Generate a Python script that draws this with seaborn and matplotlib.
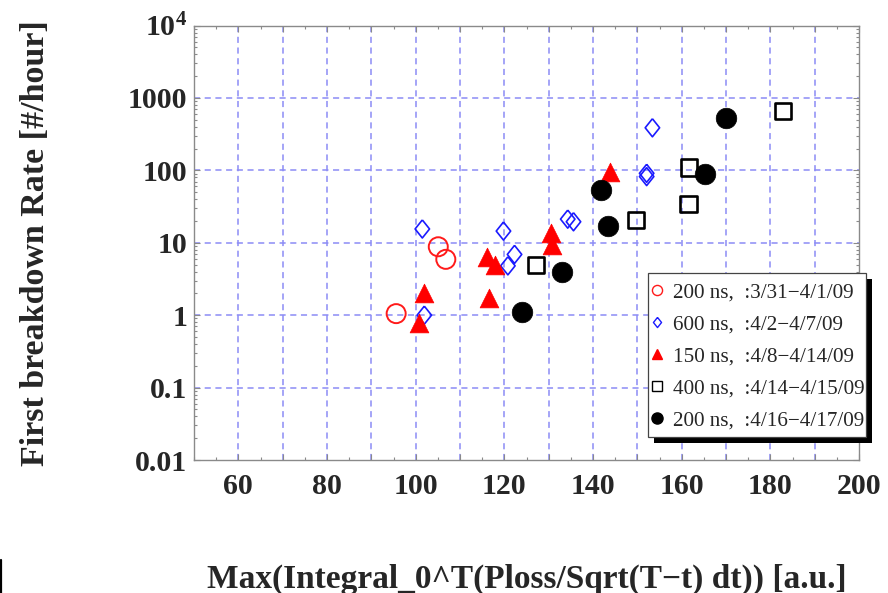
import numpy as np
import pandas as pd
import matplotlib
matplotlib.use("Agg")
import matplotlib.pyplot as plt
import seaborn as sns
from matplotlib.lines import Line2D
from matplotlib.patches import Rectangle
from matplotlib.ticker import MultipleLocator, LogLocator, NullFormatter, FixedLocator, FixedFormatter

# ---- data: first breakdown rate vs. max integrated loss, per run ----
x_200ns_a = [95.6, 105.1, 106.8]
y_200ns_a = [1.05, 8.8, 5.9]

x_600ns = [101.5, 101.95, 119.8, 122.3, 120.8, 134.3, 135.6, 152.1, 152.1, 153.4]
y_600ns = [15.5, 1.0, 14.5, 6.9, 4.8, 21.2, 19.5, 91.0, 82.0, 387.0]

x_150ns = [101.95, 100.8, 116.0, 117.9, 116.6, 130.5, 130.7, 143.8]
y_150ns = [2.0, 0.77, 6.4, 4.9, 1.7, 13.5, 9.3, 96.0]

x_400ns = [127.1, 149.7, 161.5, 161.7, 182.8]
y_400ns = [4.9, 20.6, 34.0, 109.0, 661.0]

x_200ns_b = [123.9, 132.9, 141.8, 143.3, 165.3, 170.0]
y_200ns_b = [1.11, 4.0, 53.0, 17.0, 89.0, 533.0]

series_labels = [
    "200 ns,  :3/31\u22124/1/09",
    "600 ns,  :4/2\u22124/7/09",
    "150 ns,  :4/8\u22124/14/09",
    "400 ns,  :4/14\u22124/15/09",
    "200 ns,  :4/16\u22124/17/09",
]

x_ticks = [60, 70, 80, 90, 100, 110, 120, 130, 140, 150, 160, 170, 180, 190, 200]
x_tick_labels = ["60", "", "80", "", "100", "", "120", "", "140", "", "160", "", "180", "", "200"]
y_ticks = [0.01, 0.1, 1, 10, 100, 1000, 1e4]
y_tick_labels = ["0.01", "0.1", "1", "10", "100", "1000", r"$10^{4}$"]

x_label = "Max(Integral_0^T(Ploss/Sqrt(T\u2212t) dt)) [a.u.]"
y_label = "First breakdown Rate [#/hour]"

# ---- style ----
sns.set_style("ticks")
plt.rcParams["font.family"] = ["Liberation Serif", "DejaVu Serif"]
plt.rcParams["mathtext.fontset"] = "custom"
plt.rcParams["mathtext.rm"] = "Liberation Serif:bold"
plt.rcParams["mathtext.bf"] = "Liberation Serif:bold"
plt.rcParams["mathtext.it"] = "Liberation Serif:bold"

W, H = 888, 593
fig = plt.figure(figsize=(W / 100, H / 100), dpi=100)
ax = fig.add_axes([194 / W, 1 - 460 / H, (859 - 194) / W, (460 - 25.5) / H])

diamond = [(0, 1), (0.8, 0), (0, -1), (-0.8, 0), (0, 1)]

series = [
    dict(x=x_200ns_a, y=y_200ns_a, marker="o", fc="none", ec="#ff1a1a", s=13.7 ** 2, lw=1.4),
    dict(x=x_600ns, y=y_600ns, marker=diamond, fc="none", ec="#1a1aff", s=13.0 ** 2, lw=1.2),
    dict(x=x_150ns, y=y_150ns, marker="^", fc="#ff0000", ec="#ff0000", s=13.5 ** 2, lw=0.5),
    dict(x=x_400ns, y=y_400ns, marker="s", fc="none", ec="black", s=11.8 ** 2, lw=1.9),
    dict(x=x_200ns_b, y=y_200ns_b, marker="o", fc="black", ec="black", s=14.8 ** 2, lw=0.5),
]

for sr in series:
    df = pd.DataFrame({"x": sr["x"], "y": sr["y"]})
    sns.scatterplot(data=df, x="x", y="y", ax=ax, marker=sr["marker"], s=sr["s"],
                    color=sr["ec"], facecolor=sr["fc"], edgecolor=sr["ec"],
                    linewidth=sr["lw"], zorder=3, legend=False)

ax.set_yscale("log")
ax.set_xlim(50, 200)
ax.set_ylim(0.01, 1e4)

ax.xaxis.set_major_locator(FixedLocator(x_ticks))
ax.xaxis.set_major_formatter(FixedFormatter(x_tick_labels))
ax.xaxis.set_minor_locator(MultipleLocator(5))
ax.yaxis.set_major_locator(FixedLocator(y_ticks))
ax.yaxis.set_major_formatter(FixedFormatter(y_tick_labels))
ax.yaxis.set_minor_locator(LogLocator(base=10, subs=np.arange(2, 10), numticks=20))
ax.yaxis.set_minor_formatter(NullFormatter())

frame_col = "#8a8a8a"
for sp in ax.spines.values():
    sp.set_color(frame_col)
    sp.set_linewidth(1.0)
    sp.set_zorder(2.6)

ax.tick_params(which="both", direction="in", top=True, right=True, color=frame_col, width=0.8)
ax.tick_params(which="major", length=4)
ax.tick_params(which="minor", length=2.5)
ax.tick_params(axis="x", which="major", labelsize=21.5, pad=9)
ax.tick_params(axis="y", which="major", labelsize=21.5, pad=5)
for lab in ax.get_xticklabels() + ax.get_yticklabels():
    lab.set_fontweight("bold")

ax.grid(True, which="major", color="#8c8cf5", linewidth=1.1, linestyle=(0, (4, 3)))
ax.set_axisbelow(True)
ax.xaxis.get_gridlines()[-1].set_visible(False)
ygl = ax.yaxis.get_gridlines()
ygl[0].set_visible(False)
ygl[-1].set_visible(False)

ax.set_xlabel(x_label, fontsize=24, fontweight="bold", labelpad=46)
ax.set_ylabel(y_label, fontsize=24.5, fontweight="bold", labelpad=55)

# legend: boxed panel with a solid drop shadow
box_l, box_t, box_r, box_b = 648, 273, 866, 437
shadow_off = 6
ax.add_patch(Rectangle(((box_l + shadow_off) / W, 1 - (box_b + shadow_off) / H),
                       (box_r - box_l) / W, (box_b - box_t) / H,
                       transform=fig.transFigure, facecolor="black", edgecolor="none",
                       clip_on=False, zorder=5.2))
ax.add_patch(Rectangle((box_l / W, 1 - box_b / H), (box_r - box_l) / W, (box_b - box_t) / H,
                       transform=fig.transFigure, facecolor="white", edgecolor="#444444",
                       linewidth=0.9, clip_on=False, zorder=5.4))

handles = []
for sr, lab in zip(series, series_labels):
    ms = 8.0 if (sr["marker"] == "o" and sr["fc"] != "none") else 7.3
    handles.append(Line2D([], [], linestyle="none", marker=sr["marker"], markersize=ms,
                          markerfacecolor=sr["fc"], markeredgecolor=sr["ec"],
                          markeredgewidth=1.0, label=lab))
leg = ax.legend(handles=handles, loc="upper left",
                bbox_to_anchor=(652 / W, 1 - 282.5 / H), bbox_transform=fig.transFigure,
                prop={"family": "Liberation Serif", "size": 15.2}, frameon=False,
                borderpad=0, labelspacing=0.58, handlelength=0.48, handletextpad=0.5,
                borderaxespad=0)
leg.set_zorder(6)

fig.add_artist(Line2D([0.8 / W, 0.8 / W], [0, 33 / H], color="black", linewidth=1.6,
                      transform=fig.transFigure))

fig.savefig("out.png", dpi=100)
